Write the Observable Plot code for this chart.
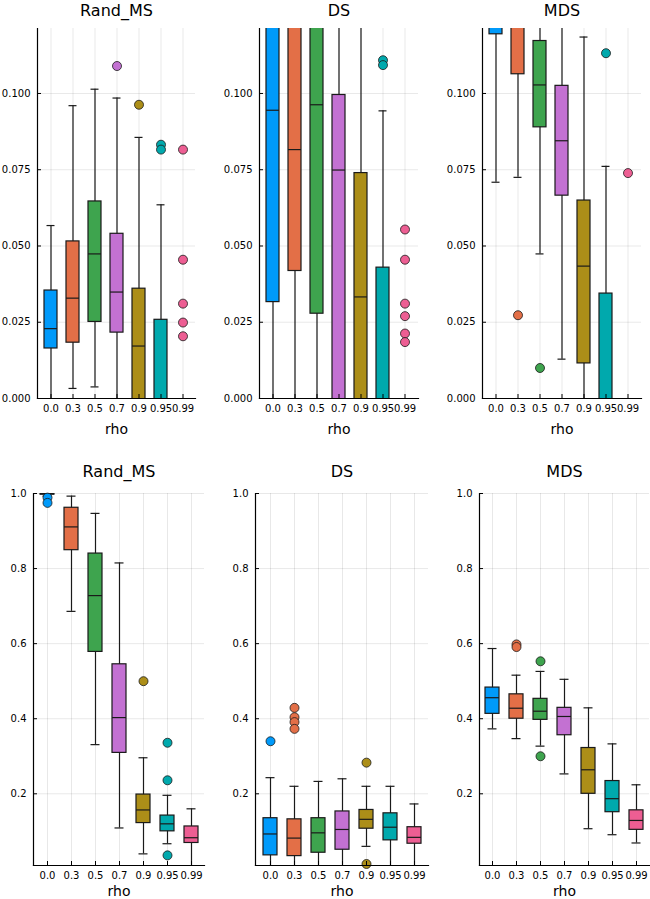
<!DOCTYPE html>
<html>
<head>
<meta charset="utf-8">
<script src="https://cdn.jsdelivr.net/npm/d3@7"></script>
<script src="https://cdn.jsdelivr.net/npm/@observablehq/plot@0.6"></script>
<style>
  html, body { margin: 0; padding: 0; background: #fff; }
  #chart { position: relative; width: 650px; height: 899px; overflow: hidden; background: #fff; }
  #chart svg { position: absolute; }
</style>
</head>
<body>
<div id="chart"></div>
<script>
// categories
const rho = ["0.0", "0.3", "0.5", "0.7", "0.9", "0.95", "0.99"];
const palette = ["#009AFA", "#E36F47", "#3EA44E", "#C371D2", "#AC8E18", "#00A9AD", "#ED5E93"];

// box stats per category: [whisker low, q1, median, q3, whisker high]
// (values beyond the axis limits are clipped, as in the original)
const randMSTop = [
  [-0.01, 0.0164, 0.0229, 0.0354, 0.0567],
  [0.0033, 0.0183, 0.0329, 0.0515, 0.0960],
  [0.0038, 0.0251, 0.0474, 0.0646, 0.1014],
  [-0.01, 0.0216, 0.0349, 0.0540, 0.0985],
  [-0.03, -0.01, 0.0172, 0.0360, 0.0856],
  [-0.04, -0.02, -0.006, 0.0258, 0.0635],
  [-0.05, -0.04, -0.03, -0.02, -0.006]
];
const randMSTopOut = [["0.7", 0.109], ["0.9", 0.0963], ["0.95", 0.0832], ["0.95", 0.0816],
  ["0.99", 0.0816], ["0.99", 0.0455], ["0.99", 0.0311], ["0.99", 0.0249], ["0.99", 0.0204]];

const dsTop = [
  [-0.01, 0.0316, 0.0945, 0.16, 0.25],
  [-0.01, 0.0418, 0.0816, 0.15, 0.25],
  [-0.01, 0.0278, 0.0963, 0.16, 0.25],
  [-0.03, -0.01, 0.0749, 0.0995, 0.20],
  [-0.04, -0.02, 0.0333, 0.0739, 0.15],
  [-0.05, -0.02, -0.006, 0.0429, 0.0943],
  [-0.05, -0.04, -0.03, -0.02, -0.006]
];
const dsTopOut = [["0.95", 0.1109], ["0.95", 0.1093], ["0.99", 0.0554], ["0.99", 0.0455],
  ["0.99", 0.0311], ["0.99", 0.0270], ["0.99", 0.0213], ["0.99", 0.0185]];

const mdsTop = [
  [0.0709, 0.1194, 0.14, 0.16, 0.20],
  [0.0725, 0.1063, 0.13, 0.15, 0.19],
  [0.0474, 0.0889, 0.1028, 0.1172, 0.15],
  [0.0129, 0.0665, 0.0845, 0.1025, 0.14],
  [-0.01, 0.0115, 0.0434, 0.0649, 0.1185],
  [-0.03, -0.01, -0.006, 0.0344, 0.0761],
  [-0.05, -0.04, -0.03, -0.02, -0.006]
];
const mdsTopOut = [["0.3", 0.0273], ["0.5", 0.0100], ["0.95", 0.1132], ["0.99", 0.0739]];

const randMSBot = [
  [0.993, 0.997, 0.999, 1.0, 1.0],
  [0.686, 0.849, 0.911, 0.962, 0.993],
  [0.331, 0.578, 0.728, 0.840, 0.947],
  [0.109, 0.309, 0.403, 0.545, 0.815],
  [0.040, 0.122, 0.157, 0.198, 0.296],
  [0.067, 0.100, 0.120, 0.142, 0.196],
  [0.0, 0.069, 0.083, 0.113, 0.160]
];
const randMSBotOut = [["0.0", 0.989], ["0.0", 0.975], ["0.9", 0.5], ["0.95", 0.336], ["0.95", 0.236], ["0.95", 0.036]];

const dsBot = [
  [0.0, 0.036, 0.093, 0.135, 0.243],
  [0.0, 0.034, 0.082, 0.132, 0.220],
  [0.0, 0.043, 0.096, 0.135, 0.233],
  [0.0, 0.051, 0.105, 0.153, 0.240],
  [0.060, 0.107, 0.132, 0.157, 0.220],
  [0.0, 0.076, 0.111, 0.148, 0.220],
  [0.0, 0.067, 0.084, 0.111, 0.173]
];
const dsBotOut = [["0.0", 0.340], ["0.3", 0.429], ["0.3", 0.404], ["0.3", 0.391], ["0.3", 0.373], ["0.9", 0.283], ["0.9", 0.013]];

const mdsBot = [
  [0.373, 0.413, 0.456, 0.483, 0.587],
  [0.347, 0.400, 0.428, 0.465, 0.516],
  [0.327, 0.397, 0.420, 0.453, 0.526],
  [0.253, 0.356, 0.406, 0.429, 0.505],
  [0.107, 0.200, 0.264, 0.322, 0.429],
  [0.091, 0.151, 0.187, 0.234, 0.333],
  [0.069, 0.104, 0.129, 0.156, 0.224]
];
const mdsBotOut = [["0.3", 0.598], ["0.3", 0.591], ["0.5", 0.553], ["0.5", 0.300]];

const topTicks = [0, 0.025, 0.05, 0.075, 0.1];
const botTicks = [0.2, 0.4, 0.6, 0.8, 1.0];
const topDomain = [0, 0.1213];
const botDomain = [0.009, 1.0];

const ink = "#1a1a1a";

function panel(cfg) {
  const data = cfg.stats.map((s, i) => ({rho: rho[i], lo: s[0], q1: s[1], med: s[2], q3: s[3], hi: s[4]}));
  const out = cfg.outliers.map(([r, v]) => ({rho: r, v}));
  const svg = Plot.plot({
    width: cfg.width,
    height: cfg.height,
    marginLeft: cfg.mL,
    marginRight: cfg.mR,
    marginTop: cfg.mT,
    marginBottom: cfg.mB,
    style: {fontFamily: "'DejaVu Sans', sans-serif", fontSize: "10px", background: "transparent", overflow: "visible", color: "#000"},
    x: {type: "band", domain: rho, paddingInner: 0.42, paddingOuter: 0.21, axis: null},
    y: {domain: cfg.yDomain, axis: null},
    color: {domain: rho, range: palette},
    marks: [
      Plot.gridX({stroke: "#000", strokeOpacity: 0.09}),
      Plot.gridY({ticks: cfg.ticks, stroke: "#000", strokeOpacity: 0.09}),
      Plot.ruleX(data, {x: "rho", y1: "lo", y2: "hi", stroke: ink, strokeWidth: 1.2, clip: true}),
      Plot.tickY(data, {x: "rho", y: "lo", insetLeft: 2.5, insetRight: 2.5, stroke: ink, strokeWidth: 1.2, clip: true}),
      Plot.tickY(data, {x: "rho", y: "hi", insetLeft: 2.5, insetRight: 2.5, stroke: ink, strokeWidth: 1.2, clip: true}),
      Plot.barY(data, {x: "rho", y1: "q1", y2: "q3", fill: "rho", stroke: ink, strokeWidth: 1.2, clip: true}),
      Plot.tickY(data, {x: "rho", y: "med", stroke: ink, strokeWidth: 1.2, clip: true}),
      Plot.dot(out, {x: "rho", y: "v", r: 4.5, fill: "rho", stroke: ink, strokeWidth: 0.8}),
      Plot.axisY({ticks: cfg.ticks, tickFormat: cfg.fmt, tickSize: -4, tickPadding: 11, stroke: "#000", fill: "#000", label: null}),
      Plot.axisX({tickSize: -4, tickPadding: 10, stroke: "#000", fill: "#000", label: null}),
      Plot.frame({anchor: "left", stroke: "#000", strokeWidth: 1.2}),
      Plot.frame({anchor: "bottom", stroke: "#000", strokeWidth: 1.2}),
      Plot.text([cfg.title], {frameAnchor: "top", dy: cfg.titleDy, fontSize: 16, fill: "#000", text: d => d}),
      Plot.text(["rho"], {frameAnchor: "bottom", dy: cfg.labelDy, fontSize: 14, fill: "#000", text: d => d})
    ]
  });
  svg.style.left = cfg.left + "px";
  svg.style.top = cfg.top + "px";
  document.getElementById("chart").appendChild(svg);
}

const fmtTop = d3.format(".3f");
const fmtBot = d3.format(".1f");
const topRow = {top: 0, height: 440, mT: 28, mB: 42, yDomain: topDomain, ticks: topTicks, fmt: fmtTop, titleDy: -24, labelDy: 35};
const botRow = {top: 440, height: 459, mT: 53, mB: 34, yDomain: botDomain, ticks: botTicks, fmt: fmtBot, titleDy: -28, labelDy: 30};

panel({...topRow, title: "Rand_MS", stats: randMSTop, outliers: randMSTopOut, left: 0, width: 215, mL: 37, mR: 20});
panel({...topRow, title: "DS", stats: dsTop, outliers: dsTopOut, left: 215, width: 215, mL: 44, mR: 12});
panel({...topRow, title: "MDS", stats: mdsTop, outliers: mdsTopOut, left: 430, width: 220, mL: 52, mR: 9});
panel({...botRow, title: "Rand_MS", stats: randMSBot, outliers: randMSBotOut, left: 0, width: 215, mL: 33, mR: 11});
panel({...botRow, title: "DS", stats: dsBot, outliers: dsBotOut, left: 215, width: 215, mL: 40, mR: 2});
panel({...botRow, title: "MDS", stats: mdsBot, outliers: mdsBotOut, left: 430, width: 220, mL: 49, mR: 1});
</script>
</body>
</html>
